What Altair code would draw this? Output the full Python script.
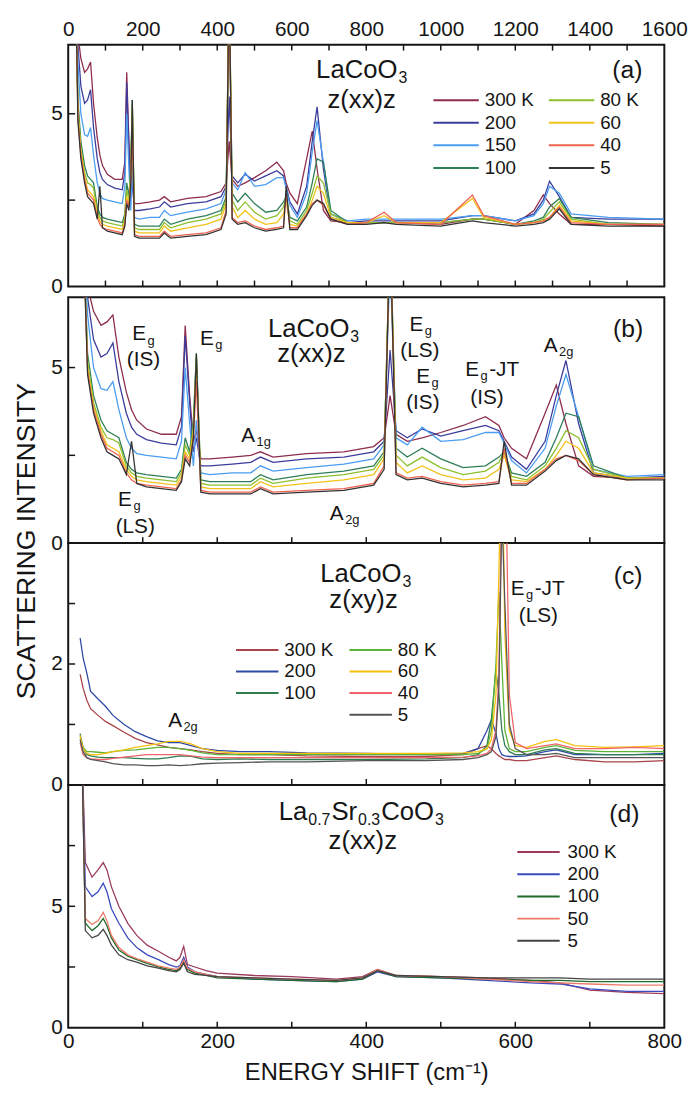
import altair as alt
import pandas as pd

FONT = "Liberation Sans"
INK = "#151515"

# ---------------- LaCoO3, z(xx)z : panels (a) and (b) share these spectra ----------------
X_XX = [20, 26, 34, 44, 52, 60, 68, 78, 85, 92,
        105, 125, 145, 152, 157, 163, 168, 172, 178, 190,
        220, 245, 258, 275, 320, 370, 410, 424, 432, 440,
        455, 475, 500, 530, 560, 578, 585, 595, 615, 640,
        655, 668, 685, 705, 750, 800, 848, 880, 1000, 1085,
        1115, 1200, 1250, 1275, 1292, 1318, 1350, 1450, 1600]
XX_300 = [9, 7.3, 6.6, 6.2, 6.3, 6.5, 5.3, 4.3, 3.8, 3.5,
          3.25, 3.1, 3.1, 3.6, 6.2, 4.2, 2.9, 3.2, 2.4, 2.4,
          2.45, 2.5, 2.6, 2.45, 2.55, 2.6, 2.75, 3.0, 4.2, 3.1,
          2.9, 3.0, 3.15, 3.35, 3.6, 3.35, 3.0, 2.7, 2.4, 3.7,
          4.5, 3.4, 2.2, 1.9, 1.85, 1.85, 1.85, 1.85, 1.8, 1.95,
          1.95, 1.8, 2.2, 2.65, 2.4, 2.1, 1.8, 1.8, 1.75]
XX_200 = [9, 7.0, 5.8, 5.3, 5.4, 5.7, 4.6, 3.7, 3.3, 3.1,
          2.95, 2.85, 2.8, 3.3, 5.9, 4.0, 2.6, 3.0, 2.2, 2.2,
          2.25, 2.3, 2.45, 2.3, 2.4, 2.45, 2.6, 2.9, 5.5, 3.2,
          3.0, 3.25, 3.05, 3.2, 3.35, 3.2, 2.9, 2.45, 2.1, 2.9,
          4.2, 5.2, 3.4, 2.0, 1.85, 1.9, 1.9, 1.9, 1.9, 2.05,
          2.05, 1.9, 2.1, 2.5, 3.05, 2.6, 2.0, 1.95, 1.95]
XX_150 = [9, 6.5, 5.0, 4.4, 4.35, 4.6, 3.8, 3.0, 2.7, 2.55,
          2.5, 2.45, 2.4, 2.9, 5.0, 3.4, 2.2, 3.5, 2.0, 1.95,
          2.0, 2.0, 2.2, 2.05, 2.15, 2.25, 2.4, 2.8, 8.0, 3.0,
          2.8, 3.3, 2.9, 2.95, 3.15, 3.15, 2.85, 2.35, 2.0, 2.7,
          3.9, 4.8, 3.6, 2.1, 1.9, 1.95, 1.95, 1.95, 1.95, 2.05,
          2.05, 1.9, 2.05, 2.4, 2.9, 2.7, 2.1, 2.0, 1.95]
XX_100 = [9, 5.4, 4.2, 3.5, 3.2, 3.1, 3.0, 2.3, 2.1, 2.0,
          1.95, 1.9, 1.85, 2.1, 3.0, 2.6, 3.5, 5.4, 1.8, 1.75,
          1.75, 1.75, 1.95, 1.8, 1.95, 2.05, 2.2, 2.6, 9.0, 2.7,
          2.45, 2.7, 2.4, 2.15, 2.2, 2.45, 2.6, 2.0, 1.9, 2.3,
          3.0, 3.7, 3.6, 2.2, 1.85, 1.85, 1.85, 1.85, 1.85, 1.95,
          1.95, 1.8, 1.9, 2.0, 2.3, 2.55, 2.0, 1.85, 1.8]
XX_80 = [9, 5.2, 4.0, 3.3, 3.0, 2.95, 2.85, 2.2, 2.0, 1.9,
         1.85, 1.8, 1.75, 2.0, 2.8, 2.5, 3.3, 5.3, 1.7, 1.65,
         1.65, 1.65, 1.85, 1.7, 1.85, 1.95, 2.1, 2.5, 9.0, 2.5,
         2.2, 2.45, 2.15, 1.95, 2.05, 2.3, 2.6, 1.9, 1.8, 2.2,
         2.7, 3.2, 3.0, 2.1, 1.85, 1.85, 1.85, 1.85, 1.85, 1.95,
         1.95, 1.8, 1.85, 1.95, 2.15, 2.45, 1.95, 1.8, 1.8]
XX_60 = [9, 5.0, 3.9, 3.2, 2.8, 2.7, 2.6, 2.1, 1.9, 1.8,
         1.75, 1.7, 1.65, 1.9, 2.6, 2.4, 3.2, 5.1, 1.6, 1.55,
         1.55, 1.55, 1.75, 1.6, 1.7, 1.8, 1.95, 2.4, 9.0, 2.3,
         2.0, 2.2, 1.95, 1.8, 1.85, 2.1, 2.5, 1.8, 1.75, 2.1,
         2.5, 2.9, 2.7, 2.0, 1.85, 1.85, 2.05, 1.85, 1.85, 2.55,
         2.0, 1.8, 1.85, 1.9, 2.0, 2.35, 1.9, 1.8, 1.8]
XX_40 = [9, 4.9, 3.8, 3.1, 2.7, 2.6, 2.5, 2.0, 1.8, 1.7,
         1.65, 1.6, 1.55, 1.8, 2.5, 2.3, 3.0, 4.6, 1.5, 1.45,
         1.45, 1.45, 1.6, 1.45, 1.5, 1.55, 1.7, 2.2, 9.0, 2.0,
         1.85, 1.9, 1.75, 1.65, 1.7, 1.75, 2.7, 1.7, 1.7, 2.1,
         2.4, 2.5, 2.35, 1.95, 1.8, 1.85, 2.15, 1.85, 1.8, 2.65,
         2.05, 1.8, 1.85, 1.9, 2.0, 2.3, 1.85, 1.8, 1.8]
XX_5 = [9, 4.8, 3.7, 3.0, 2.6, 2.5, 2.4, 1.95, 2.9, 1.7,
        1.6, 1.55, 1.5, 1.75, 2.4, 2.2, 3.0, 5.4, 1.45, 1.4,
        1.4, 1.4, 1.55, 1.4, 1.45, 1.5, 1.65, 2.1, 9.0, 1.95,
        1.8, 1.85, 1.7, 1.6, 1.65, 1.7, 2.9, 1.65, 1.65, 2.05,
        2.35, 2.5, 2.4, 1.95, 1.8, 1.8, 1.85, 1.8, 1.75, 1.9,
        1.85, 1.75, 1.8, 1.85, 1.95, 2.25, 1.8, 1.75, 1.75]
TEMPS_XX = ["300 K", "200", "150", "100", "80 K", "60", "40", "5"]
SPEC_XX = [XX_300, XX_200, XX_150, XX_100, XX_80, XX_60, XX_40, XX_5]

# ---------------- LaCoO3, z(xy)z : panel (c) ----------------
X_XY = [16, 20, 25, 30, 40, 50, 60, 75, 90, 105,
        120, 135, 150, 165, 180, 200, 230, 270, 320, 400,
        480, 530, 550, 562, 568, 574, 578, 582, 586, 592,
        600, 615, 640, 655, 680, 720, 760, 800]
XY_300 = [1.83, 1.6, 1.4, 1.26, 1.15, 1.05, 0.98, 0.87, 0.77, 0.7,
          0.66, 0.62, 0.6, 0.58, 0.55, 0.52, 0.5, 0.5, 0.48, 0.47,
          0.47, 0.5, 0.6, 0.65, 0.6, 0.52, 0.48, 0.45, 0.42, 0.42,
          0.4, 0.4, 0.45, 0.48, 0.42, 0.38, 0.38, 0.4]
XY_200 = [2.43, 2.1, 1.85, 1.55, 1.42, 1.3, 1.15, 1.0, 0.88, 0.8,
          0.73, 0.7, 0.7, 0.65, 0.6, 0.57, 0.55, 0.55, 0.53, 0.52,
          0.5, 0.52, 0.6, 0.9, 1.08, 0.85, 0.6, 0.5, 0.48, 0.47,
          0.47, 0.48, 0.55, 0.58, 0.5, 0.5, 0.5, 0.52]
XY_100 = [0.85, 0.6, 0.5, 0.48, 0.46, 0.45, 0.45, 0.45, 0.44, 0.43,
          0.43, 0.45, 0.48, 0.47, 0.43, 0.42, 0.43, 0.42, 0.42, 0.42,
          0.43, 0.45, 0.5, 0.65, 1.1, 1.9, 1.5, 0.9, 0.65, 0.55,
          0.5, 0.5, 0.58, 0.6, 0.52, 0.5, 0.5, 0.5]
XY_80 = [0.8, 0.62, 0.55, 0.55, 0.54, 0.53, 0.55, 0.57, 0.58, 0.6,
         0.62, 0.62, 0.6, 0.57, 0.53, 0.5, 0.5, 0.5, 0.5, 0.5,
         0.5, 0.5, 0.52, 0.6, 0.9, 2.0, 3.2, 2.0, 0.9, 0.6,
         0.55, 0.55, 0.62, 0.65, 0.57, 0.55, 0.55, 0.55]
XY_60 = [0.82, 0.6, 0.52, 0.5, 0.5, 0.52, 0.55, 0.58, 0.62, 0.65,
         0.68, 0.72, 0.72, 0.68, 0.6, 0.55, 0.52, 0.52, 0.52, 0.52,
         0.52, 0.53, 0.55, 0.6, 0.75, 1.5, 3.5, 6.0, 2.5, 0.9,
         0.65, 0.62, 0.72, 0.75, 0.65, 0.62, 0.63, 0.65]
XY_40 = [0.7, 0.5, 0.45, 0.43, 0.42, 0.42, 0.44, 0.46, 0.48, 0.5,
         0.5, 0.5, 0.5, 0.48, 0.46, 0.45, 0.45, 0.45, 0.45, 0.45,
         0.45, 0.46, 0.48, 0.52, 0.6, 0.9, 1.8, 5.0, 6.0, 1.5,
         0.7, 0.6, 0.65, 0.68, 0.6, 0.6, 0.62, 0.6]
XY_5 = [0.75, 0.55, 0.45, 0.42, 0.4, 0.38, 0.35, 0.33, 0.33, 0.32,
        0.32, 0.33, 0.32, 0.33, 0.35, 0.36, 0.37, 0.38, 0.38, 0.4,
        0.4, 0.42, 0.45, 0.5, 0.55, 0.8, 1.6, 4.5, 3.0, 1.0,
        0.6, 0.5, 0.5, 0.52, 0.45, 0.45, 0.45, 0.45]
TEMPS_XY = ["300 K", "200", "100", "80 K", "60", "40", "5"]
SPEC_XY = [XY_300, XY_200, XY_100, XY_80, XY_60, XY_40, XY_5]

# ---------------- La0.7Sr0.3CoO3, z(xx)z : panel (d) ----------------
X_SR = [18, 23, 32, 40, 47, 52, 58, 68, 80, 92,
        106, 121, 135, 145, 150, 155, 160, 170, 185, 200,
        250, 300, 360, 395, 415, 440, 500, 560, 620, 660,
        700, 750, 800]
SR_300 = [12, 6.8, 6.2, 6.5, 6.8, 6.5, 5.8, 5.0, 4.3, 3.8,
          3.4, 3.15, 2.9, 2.75, 2.9, 3.35, 2.6, 2.5, 2.35, 2.25,
          2.15, 2.1, 2.0, 2.1, 2.4, 2.15, 2.1, 2.05, 1.95, 1.85,
          1.55, 1.45, 1.4]
SR_200 = [12, 5.8, 5.4, 5.6, 5.95, 5.6, 4.9, 4.3, 3.7, 3.3,
          3.0, 2.8, 2.6, 2.5, 2.55, 2.9, 2.5, 2.3, 2.2, 2.1,
          2.0, 1.95, 1.9, 2.0, 2.3, 2.1, 2.05, 1.95, 1.85, 1.8,
          1.6, 1.5, 1.5]
SR_100 = [12, 4.3, 4.0, 4.2, 4.5, 4.2, 3.7, 3.2, 2.95, 2.8,
          2.65, 2.5, 2.4, 2.35, 2.45, 2.75, 2.4, 2.25, 2.15, 2.05,
          2.0, 1.95, 1.9, 2.0, 2.35, 2.1, 2.05, 2.0, 1.95, 1.95,
          1.9, 1.9, 1.9]
SR_50 = [12, 4.5, 4.25, 4.4, 4.75, 4.4, 3.8, 3.3, 3.0, 2.85,
         2.7, 2.55, 2.45, 2.4, 2.5, 2.8, 2.45, 2.3, 2.2, 2.1,
         2.05, 2.0, 1.95, 2.05, 2.4, 2.15, 2.1, 2.0, 1.9, 1.85,
         1.8, 1.75, 1.75]
SR_5 = [12, 4.0, 3.7, 3.8, 4.05, 3.8, 3.4, 3.0, 2.8, 2.7,
        2.55, 2.45, 2.35, 2.3, 2.4, 2.65, 2.3, 2.2, 2.15, 2.1,
        2.05, 2.0, 1.95, 2.05, 2.35, 2.15, 2.1, 2.05, 2.05, 2.05,
        2.0, 2.0, 2.0]
TEMPS_SR = ["300 K", "200", "100", "50", "5"]
SPEC_SR = [SR_300, SR_200, SR_100, SR_50, SR_5]

# ---------------- axes ----------------
XA_LABELS = [0, 200, 400, 600, 800, 1000, 1200, 1400, 1600]
XA_TICKS = [100, 200, 300, 400, 500, 600, 700, 800, 900, 1000, 1100, 1200, 1300, 1400, 1500]
X_LABELS = [0, 200, 400, 600, 800]
X_TICKS = [100, 200, 300, 400, 500, 600, 700]
Y_LABELS_5 = [0, 5]
Y_LABELS_C = [0, 2]
Y_TICKS_AB = [2.5, 5]
Y_TICKS_C = [1, 2, 3]
Y_TICKS_D = [2.5, 5, 7.5]
Y_TITLE = "SCATTERING INTENSITY"
X_TITLE = "ENERGY SHIFT (cm\u207b\u00b9)"

# ---------------- annotations: (text, x, y, style) ----------------
ANN_A = [("LaCoO_3", 789, 6.26, "head"), ("z(xx)z", 789, 5.4, "head"), ("(a)", 1502, 6.26, "tag")]
ANN_B = [("E_g", 102, 5.94, "mode"), ("(IS)", 102, 5.2, "mode"),
         ("E_g", 193, 5.82, "mode"),
         ("LaCoO_3", 330, 6.1, "head"), ("z(xx)z", 327, 5.37, "head"),
         ("(b)", 752, 6.1, "tag"),
         ("E_g", 474, 6.22, "mode"), ("(LS)", 473, 5.47, "mode"),
         ("E_g", 483, 4.74, "mode"), ("(IS)", 477, 4.0, "mode"),
         ("E_g-JT", 570, 4.93, "mode"), ("(IS)", 563, 4.12, "mode"),
         ("A_2g", 659, 5.62, "mode"),
         ("A_1g", 253, 3.06, "mode"),
         ("E_g", 83, 1.22, "mode"), ("(LS)", 91, 0.47, "mode"),
         ("A_2g", 372, 0.82, "mode")]
ANN_C = [("LaCoO_3", 400, 3.49, "head"), ("z(xy)z", 397, 3.05, "head"), ("(c)", 752, 3.46, "tag"),
         ("E_g-JT", 631, 3.24, "mode"), ("(LS)", 632, 2.8, "mode"), ("A_2g", 155, 1.06, "mode")]
ANN_D = [("La_0.7Sr_0.3CoO_3", 394, 8.88, "head"), ("z(xx)z", 396, 7.68, "head"), ("(d)", 747, 8.8, "tag")]

# ---------------- styles ----------------
SIZE = {"head": 26, "tag": 25, "mode": 21}
GAP = {"head": 1, "tag": 1, "mode": 1.5}
COL_XX = {"300 K": "#8e2c4e", "200": "#3c3c9c", "150": "#4a9df0", "100": "#2e7f57",
          "80 K": "#8dbf2e", "60": "#f2c21b", "40": "#ef6350", "5": "#333333"}
COL_XY = {"300 K": "#a8444a", "200": "#2f4aa5", "100": "#2e7d4f", "80 K": "#5cb335",
          "60": "#f4c10f", "40": "#f0646a", "5": "#555555", " ": "rgba(0,0,0,0)"}
COL_SR = {"300 K": "#9c3a5c", "200": "#3b4cc0", "100": "#1e6b2a", "50": "#f07a6a", "5": "#444444"}
# legends fill column by column
ORDER_A = ["300 K", "200", "150", "100", "80 K", "60", "40", "5"]
ORDER_C = ["300 K", "200", "100", " ", "80 K", "60", "40", "5"]
ORDER_D = ["300 K", "200", "100", "50", "5"]
W = 604
FS = "\u2007"

CW = {'L': .556, 'a': .556, 'C': .722, 'o': .556, 'O': .778, 'z': .5, '(': .333, ')': .333,
      'x': .5, 'y': .5, 'E': .667, 'g': .556, '-': .333, 'J': .5, 'T': .611, 'I': .278,
      'S': .667, 'A': .667, 'r': .333, '.': .278, 'b': .556, 'c': .5, 'd': .556, ' ': .278}


def seg_w(s, size):
    return sum(CW.get(ch, 0.556) for ch in s) * size


def parse_rich(s):
    segs, cur, i = [], "", 0
    while i < len(s):
        if s[i] == "_":
            if cur:
                segs.append((cur, False))
                cur = ""
            j, sub = i + 1, ""
            while j < len(s) and (s[j].islower() or s[j].isdigit() or s[j] == "."):
                sub += s[j]
                j += 1
            segs.append((sub, True))
            i = j
            continue
        cur += s[i]
        i += 1
    if cur:
        segs.append((cur, False))
    return segs


def long_df(xs, names, specs):
    rows = []
    for name, ys in zip(names, specs):
        assert len(ys) == len(xs), (name, len(ys), len(xs))
        for x, y in zip(xs, ys):
            rows.append({"x": x, "y": y, "T": name})
    return pd.DataFrame(rows)


def panel(df, xdom, ydom, height, order, colmap, legend, x_axis, y_labels, y_ticks,
          x_ticks_bottom, x_ticks_top, anns, y_title=False):
    xs = alt.Scale(domain=xdom, nice=False, zero=False)
    ys = alt.Scale(domain=ydom, nice=False, zero=False)
    yaxis = alt.Axis(values=y_labels, ticks=False, domain=False, grid=False, labelFontSize=21,
                     labelPadding=6, title=None, labelFlush=False, format="d")

    def X(f):
        return alt.X(f, type="quantitative", scale=xs, axis=x_axis)

    def Y(f):
        return alt.Y(f, type="quantitative", scale=ys, axis=yaxis)

    layers = [alt.Chart(df).mark_line(clip=True, strokeWidth=1.3).encode(
        x=X("x"), y=Y("y"),
        color=alt.Color("T:N", scale=alt.Scale(domain=order, range=[colmap[t] for t in order]),
                        legend=legend),
    )]
    layers.append(alt.Chart(pd.DataFrame({"x": x_ticks_bottom})).mark_rule(color=INK, strokeWidth=1.5)
                  .encode(x=X("x"), y=alt.value(height), y2=alt.value(height - 6)))
    if x_ticks_top:
        layers.append(alt.Chart(pd.DataFrame({"x": x_ticks_top})).mark_rule(color=INK, strokeWidth=1.5)
                      .encode(x=X("x"), y=alt.value(0), y2=alt.value(6)))
    layers.append(alt.Chart(pd.DataFrame({"y": y_ticks})).mark_rule(color=INK, strokeWidth=1.5)
                  .encode(y=Y("y"), x=alt.value(0), x2=alt.value(7)))
    for text, ax, ay, style in anns:
        size = SIZE[style]
        sub = size * 0.62
        segs = parse_rich(text)
        widths = [seg_w(t, sub if s else size) + GAP[style] for t, s in segs]
        off = -sum(widths) / 2
        src = pd.DataFrame({"x": [ax], "y": [ay]})
        for (t, s), w in zip(segs, widths):
            layers.append(alt.Chart(src).mark_text(
                text=t, font=FONT, fontSize=sub if s else size, align="left", baseline="middle",
                dx=off, dy=size * 0.3 if s else 0, color=INK).encode(x=X("x"), y=Y("y")))
            off += w
    if y_title:
        # shared y-axis title, centred on the top edge of this panel
        layers.append(alt.Chart(pd.DataFrame({"t": [Y_TITLE]})).mark_text(
            font=FONT, fontSize=27, angle=270, align="center", baseline="middle", color=INK
        ).encode(text="t:N", x=alt.value(-42), y=alt.value(-2)))
    return alt.layer(*layers).properties(width=W, height=height)


def legend(x, y, cols, length, row_pad, col_pad, label_off, expr):
    return alt.Legend(orient="none", legendX=x, legendY=y, columns=cols, title=None,
                      direction="vertical",
                      symbolType="stroke", symbolSize=length * length, symbolStrokeWidth=2,
                      labelFontSize=19, labelOffset=label_off, rowPadding=row_pad,
                      columnPadding=col_pad, clipHeight=19, padding=0, labelExpr=expr,
                      labelColor=INK, labelFont=FONT)


df_xx = long_df(X_XX, TEMPS_XX, SPEC_XX)
df_xy = long_df(X_XY, TEMPS_XY, SPEC_XY)
df_sr = long_df(X_SR, TEMPS_SR, SPEC_SR)

axis_top = alt.Axis(orient="top", values=XA_LABELS, ticks=False, domain=False, grid=False,
                    labelFontSize=21, labelPadding=5, labelFlush=False, title=None, format="d")
axis_bottom = alt.Axis(orient="bottom", values=X_LABELS, ticks=False, domain=False, grid=False,
                       labelFontSize=21, labelPadding=3, labelFlush=False, format="d",
                       title=X_TITLE, titleFontSize=24, titleFontWeight="normal", titlePadding=9)

pa = panel(df_xx, [0, 1600], [0, 7], 245, ORDER_A, COL_XX,
           legend(369, 46.5, 2, 46, 3, 14, 5, "datum.label == '5' ? '" + FS + "5' : datum.label"),
           axis_top, Y_LABELS_5, Y_TICKS_AB, XA_TICKS, XA_TICKS, ANN_A)
pb = panel(df_xx, [0, 800], [0, 7], 249, ORDER_A, COL_XX, None,
           None, Y_LABELS_5, Y_TICKS_AB, X_TICKS, [], ANN_B)
pc = panel(df_xy, [0, 800], [0, 4], 245, ORDER_C, COL_XY,
           legend(169, 98.5, 2, 43, 2, 15, 5, "datum.label"),
           None, Y_LABELS_C, Y_TICKS_C, X_TICKS, [], ANN_C, y_title=True)
pd_ = panel(df_sr, [0, 800], [0, 10], 246, ORDER_D, COL_SR,
            legend(454, 58.5, 1, 43, 2.5, 10, 7,
                   "datum.label == '50' ? '" + FS + "50' : datum.label == '5' ? '" + FS + FS + "5' : datum.label"),
            axis_bottom, Y_LABELS_5, Y_TICKS_D, X_TICKS, [], ANN_D)

spacer = alt.Chart(pd.DataFrame({"v": [0]})).mark_point(opacity=0).encode(
    x=alt.X("v:Q", axis=None), y=alt.Y("v:Q", axis=None)
).properties(width=W, height=11, view=alt.ViewBackground(stroke="transparent"))

chart = alt.vconcat(
    pa, spacer, pb, pc, pd_, spacing=0, bounds="flush",
    padding={"left": 3, "top": 3, "right": 0, "bottom": 0},
).resolve_scale(
    x="independent", y="independent", color="independent"
).configure_view(
    stroke=INK, strokeWidth=2
).configure_axis(
    labelFont=FONT, titleFont=FONT, labelColor=INK, titleColor=INK
).configure_legend(
    labelFont=FONT
)

chart.save("out.html", embed_options={"renderer": "svg", "actions": False})
